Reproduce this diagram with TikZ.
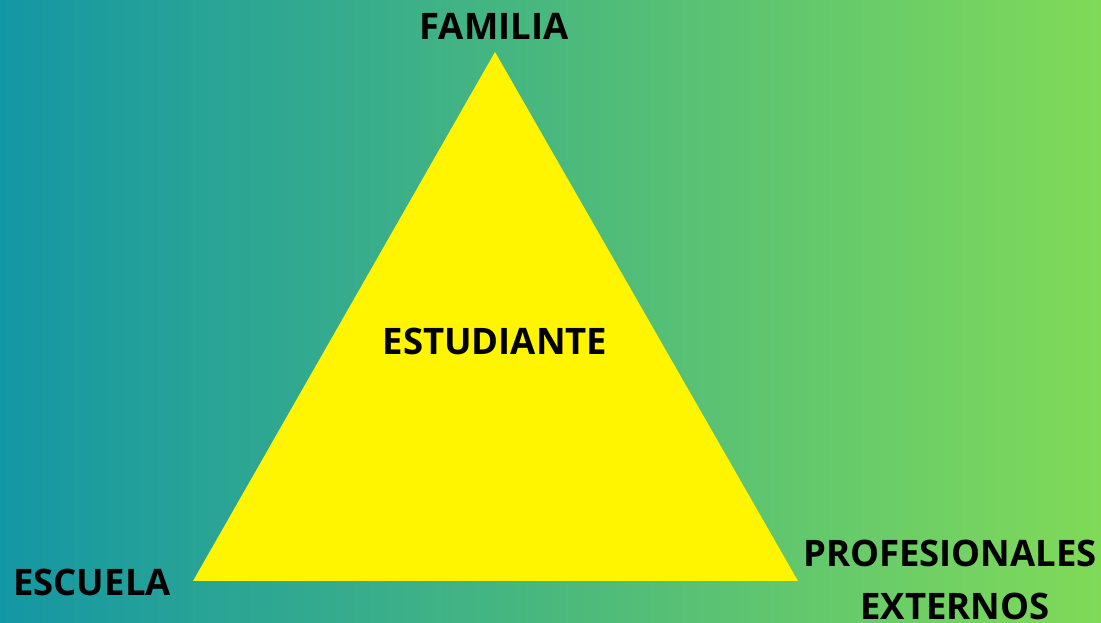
\documentclass[tikz,border=0pt]{standalone}
\usepackage{fontspec}
\setmainfont{Open Sans}
\usepackage{tikz}

\definecolor{tealleft}{RGB}{20,151,164}
\definecolor{greenright}{RGB}{128,218,88}
\definecolor{triyellow}{RGB}{255,245,0}

\tikzset{
    label text/.style={font=\fontsize{36.5}{44}\selectfont\bfseries, text=black, inner sep=0pt, anchor=base}
}

\begin{document}
\begin{tikzpicture}[x=1pt, y=1pt]
    % Background gradient
    \shade[left color=tealleft, right color=greenright] (0,0) rectangle (1101,623);
    \useasboundingbox (0,0) rectangle (1101,623);

    % Triangle corners
    \coordinate (apex) at (495,571);
    \coordinate (left) at (193,42);
    \coordinate (right) at (798,42);

    % Triangle
    \fill[triyellow] (apex) -- (left) -- (right) -- cycle;

    % Labels
    \node[label text] (familia) at (494,583) {FAMILIA};
    \node[label text] (estudiante) at (495,268) {ESTUDIANTE};
    \node[label text] (escuela) at (92,27) {ESCUELA};
    \node[label text] (profesionales) at (950,56) {PROFESIONALES};
    \node[label text] (externos) at (955,3) {EXTERNOS};
\end{tikzpicture}
\end{document}
